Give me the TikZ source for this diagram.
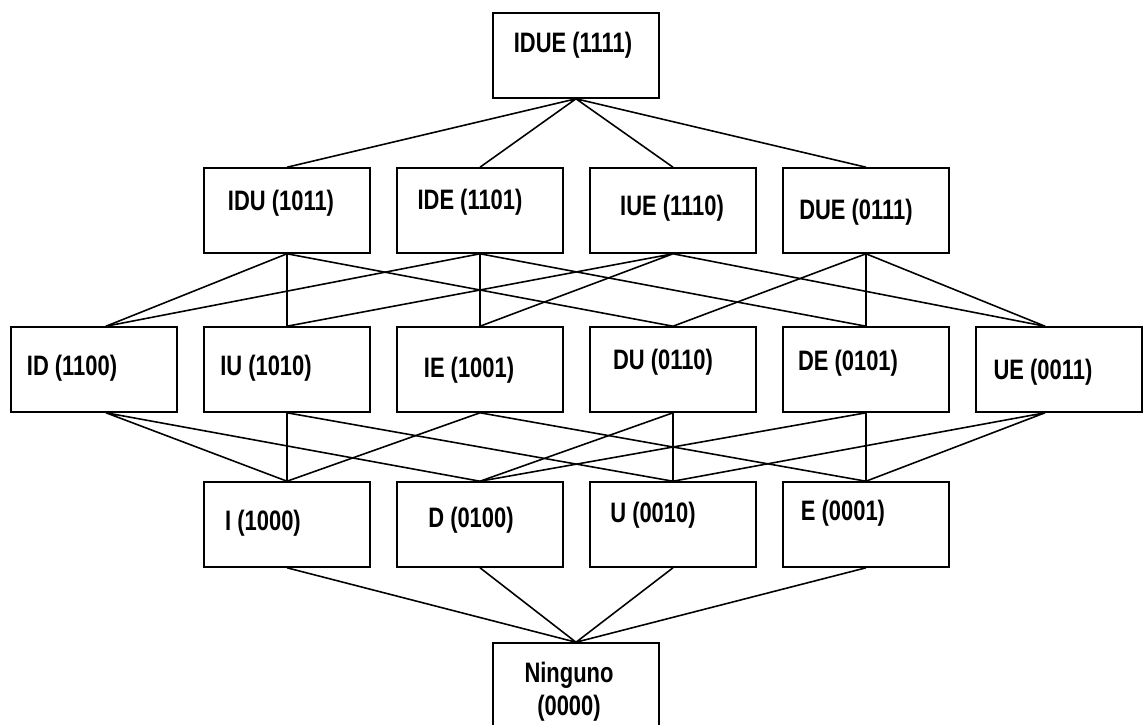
\documentclass[tikz,border=0pt]{standalone}
\usepackage{fontspec}
\newfontfamily\boxfont{Liberation Sans}[FakeStretch=0.78]
\begin{document}
\begin{tikzpicture}[x=0.02cm,y=-0.02cm,
  box/.style={draw,line width=0.9pt,minimum width=3.32cm,minimum height=1.7cm,inner sep=0pt},
  lbl/.style={font=\boxfont\bfseries\fontsize{16}{19}\selectfont,inner sep=0pt,align=center},
  link/.style={line width=0.9pt}]
\clip (0,0) rectangle (1143,724);
% boxes
\node[box] (idue) at (576,55.5) {};
\node[box] (idu) at (287,210.5) {};
\node[box] (ide) at (480,210.5) {};
\node[box] (iue) at (673,210.5) {};
\node[box] (due) at (866,210.5) {};
\node[box] (id) at (94,369.5) {};
\node[box] (iu) at (287,369.5) {};
\node[box] (ie) at (480,369.5) {};
\node[box] (du) at (673,369.5) {};
\node[box] (de) at (866,369.5) {};
\node[box] (ue) at (1059,369.5) {};
\node[box] (i) at (287,524.5) {};
\node[box] (d) at (480,524.5) {};
\node[box] (u) at (673,524.5) {};
\node[box] (e) at (866,524.5) {};
\node[box] (ninguno) at (576,685.5) {};
% texts
\node[lbl] (idue-t) at (573,45) {IDUE (1111)};
\node[lbl] (idu-t) at (281,203) {IDU (1011)};
\node[lbl] (ide-t) at (470,202) {IDE (1101)};
\node[lbl] (iue-t) at (672,208) {IUE (1110)};
\node[lbl] (due-t) at (856,212) {DUE (0111)};
\node[lbl] (id-t) at (72,368) {ID (1100)};
\node[lbl] (iu-t) at (266,368) {IU (1010)};
\node[lbl] (ie-t) at (469,370) {IE (1001)};
\node[lbl] (du-t) at (663,362) {DU (0110)};
\node[lbl] (de-t) at (848,363) {DE (0101)};
\node[lbl] (ue-t) at (1043,372) {UE (0011)};
\node[lbl] (i-t) at (263,523) {I (1000)};
\node[lbl] (d-t) at (471,520) {D (0100)};
\node[lbl] (u-t) at (653,515) {U (0010)};
\node[lbl] (e-t) at (843,513) {E (0001)};
\node[lbl] (ninguno-t) at (569,692) {Ninguno\\(0000)};
% links
\draw[link] (idue.south) -- (idu.north) (idue.south) -- (ide.north)
  (idue.south) -- (iue.north) (idue.south) -- (due.north);
\draw[link] (idu.south) -- ([xshift=0.24cm]id.north) (idu.south) -- (iu.north)
  (idu.south) -- (du.north);
\draw[link] (ide.south) -- ([xshift=0.24cm]id.north) (ide.south) -- (ie.north)
  (ide.south) -- (de.north);
\draw[link] (iue.south) -- (iu.north) (iue.south) -- (ie.north)
  (iue.south) -- ([xshift=-0.28cm]ue.north);
\draw[link] (due.south) -- (du.north) (due.south) -- (de.north)
  (due.south) -- ([xshift=-0.28cm]ue.north);
\draw[link] ([xshift=0.24cm]id.south) -- (i.north) ([xshift=0.24cm]id.south) -- (d.north);
\draw[link] (iu.south) -- (i.north) (iu.south) -- (u.north);
\draw[link] (ie.south) -- (i.north) (ie.south) -- (e.north);
\draw[link] (du.south) -- (d.north) (du.south) -- (u.north);
\draw[link] (de.south) -- (d.north) (de.south) -- (e.north);
\draw[link] ([xshift=-0.28cm]ue.south) -- (u.north) ([xshift=-0.28cm]ue.south) -- (e.north);
\draw[link] (i.south) -- (ninguno.north) (d.south) -- (ninguno.north)
  (u.south) -- (ninguno.north) (e.south) -- (ninguno.north);
\end{tikzpicture}
\end{document}
